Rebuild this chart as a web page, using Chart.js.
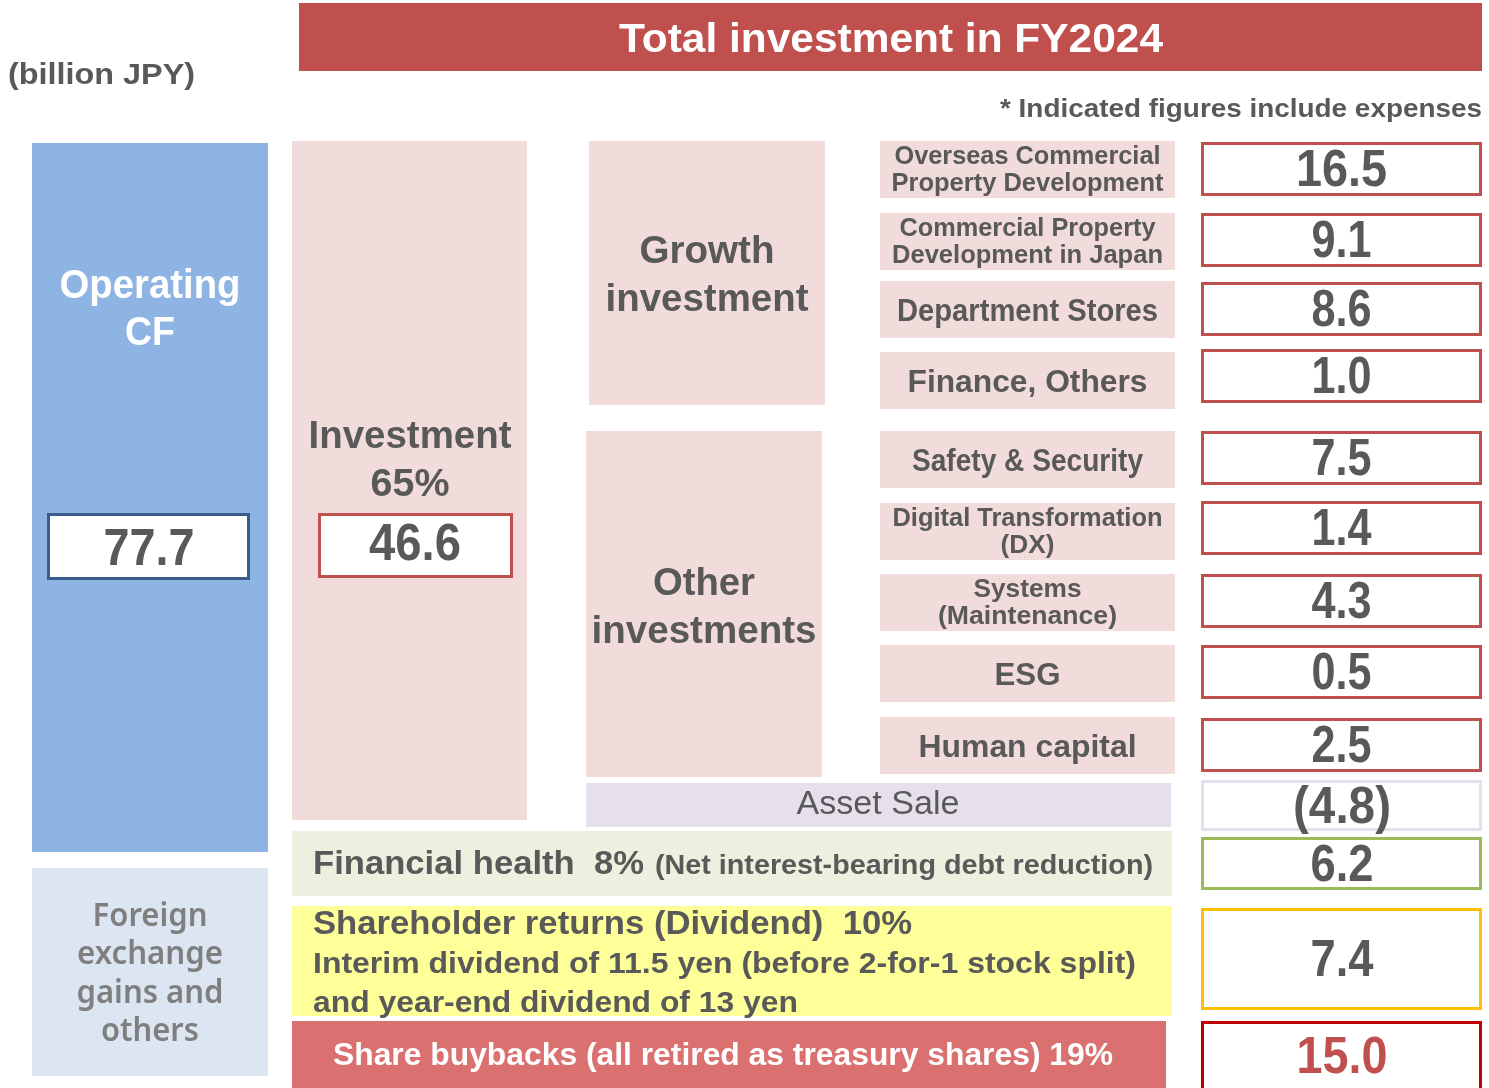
<!DOCTYPE html>
<html>
<head>
<meta charset="utf-8">
<script src="https://cdn.jsdelivr.net/npm/chart.js@4.4.1/dist/chart.umd.min.js"></script>
<style>
  html, body { margin: 0; padding: 0; background: #ffffff; }
  #wrap { width: 1489px; height: 1088px; }
</style>
</head>
<body>
<div id="wrap"><canvas id="c" width="1489" height="1088"></canvas></div>
<script>
// ---------------- DATA ----------------
const unitLabel = '(billion JPY)';
const titleText = 'Total investment in FY2024';
const noteText = '* Indicated figures include expenses';

const growthCategories = ['Overseas Commercial\nProperty Development', 'Commercial Property\nDevelopment in Japan', 'Department Stores', 'Finance, Others'];
const growthValues = [16.5, 9.1, 8.6, 1.0];

const otherCategories = ['Safety & Security', 'Digital Transformation\n(DX)', 'Systems\n(Maintenance)', 'ESG', 'Human capital'];
const otherValues = [7.5, 1.4, 4.3, 0.5, 2.5];

const sourceLabels = ['Operating\nCF', 'Foreign\nexchange\ngains and\nothers'];
const sourceValues = [77.7];

const allocationLabels = ['Investment', 'Financial health', 'Shareholder returns (Dividend)', 'Share buybacks (all retired as treasury shares)'];
const allocationShares = [65, 8, 10, 19];
const allocationValues = [46.6, 6.2, 7.4, 15.0];

const assetSaleLabel = 'Asset Sale';
const assetSaleValue = -4.8;
const groupLabels = ['Growth\ninvestment', 'Other\ninvestments'];
const financialNote = '(Net interest-bearing debt reduction)';
const dividendNotes = ['Interim dividend of 11.5 yen (before 2-for-1 stock split)', 'and year-end dividend of 13 yen'];

// ---------------- LAYOUT / STYLE (diagram grid, in scale units) ----------------
const GRAY = '#595959';
const FONT = '"Liberation Sans", Arial, sans-serif';
const TEXT_DY = 2.5;
const layout = {
  title: { x0: 299, x1: 1482, y0: 3, y1: 71, fill: '#C0504D' },
  labelCol: { x0: 880, x1: 1175, h: 57, tops: [141, 213, 281, 352, 431, 503, 574, 645, 717] },
  valueCol: { x0: 1201, x1: 1482, h: 54, tops: [142, 213, 282, 349, 431, 501, 574, 645, 718] },
  opCF: { x0: 32, x1: 268, y0: 143, y1: 852, fill: '#8EB4E3' },
  opCFVal: { x0: 47, x1: 250, y0: 513, y1: 580 },
  fx: { x0: 32, x1: 268, y0: 868, y1: 1076, fill: '#DCE6F2' },
  inv: { x0: 292, x1: 527, y0: 141, y1: 820, fill: '#F2DCDB' },
  invVal: { x0: 318, x1: 513, y0: 513, y1: 578 },
  growth: { x0: 589, x1: 825, y0: 141, y1: 405, fill: '#F2DCDB' },
  other: { x0: 586, x1: 822, y0: 431, y1: 777, fill: '#F2DCDB' },
  asset: { x0: 586, x1: 1171, y0: 783, y1: 827, fill: '#E6E0EC' },
  assetVal: { x0: 1201, x1: 1482, y0: 780, y1: 831 },
  fin: { x0: 292, x1: 1172, y0: 831, y1: 896, fill: '#EBF1DE' },
  finVal: { x0: 1201, x1: 1482, y0: 837, y1: 890 },
  div: { x0: 292, x1: 1172, y0: 906, y1: 1016, fill: '#FFFF99' },
  divVal: { x0: 1201, x1: 1482, y0: 908, y1: 1010 },
  buy: { x0: 292, x1: 1166, y0: 1021, y1: 1092, fill: '#DA7070' },
  buyVal: { x0: 1201, x1: 1482, y0: 1021, y1: 1092 }
};

function fmt(v) {
  return v < 0 ? '(' + Math.abs(v).toFixed(1) + ')' : v.toFixed(1);
}

// ---------------- DRAWING PLUGIN ----------------
const diagramPlugin = {
  id: 'diagram',
  afterDraw(chart) {
    const ctx = chart.ctx;
    const sx = chart.scales.x, sy = chart.scales.y;
    const X = v => sx.getPixelForValue(v);
    const Y = v => sy.getPixelForValue(v);

    function rect(b, fill) {
      ctx.fillStyle = fill || b.fill;
      ctx.fillRect(X(b.x0), Y(b.y0), X(b.x1) - X(b.x0), Y(b.y1) - Y(b.y0));
    }
    function frame(b, stroke, lw) {
      ctx.fillStyle = '#ffffff';
      ctx.fillRect(X(b.x0), Y(b.y0), X(b.x1) - X(b.x0), Y(b.y1) - Y(b.y0));
      ctx.strokeStyle = stroke;
      ctx.lineWidth = lw || 3;
      const h = ctx.lineWidth / 2;
      ctx.strokeRect(X(b.x0) + h, Y(b.y0) + h, X(b.x1) - X(b.x0) - 2 * h, Y(b.y1) - Y(b.y0) - 2 * h);
    }
    function text(t, x, y, font, color, align, width) {
      ctx.save();
      ctx.font = font;
      ctx.fillStyle = color;
      ctx.textBaseline = 'middle';
      ctx.textAlign = align || 'center';
      const w = ctx.measureText(t).width;
      const s = width ? width / w : 1;
      ctx.translate(X(x), Y(y + TEXT_DY));
      ctx.scale(s, 1);
      ctx.fillText(t, 0, 0);
      ctx.restore();
    }
    const VF = 'bold 51px ' + FONT;

    // header
    rect(layout.title);
    text(titleText, 891, 38, 'bold 41px ' + FONT, '#ffffff', 'center', 544);
    text(unitLabel, 8, 73, 'bold 30px ' + FONT, GRAY, 'left', 187);
    text(noteText, 1482, 107, 'bold 26px ' + FONT, GRAY, 'right', 482);

    // operating CF
    rect(layout.opCF);
    const opLines = sourceLabels[0].split('\n');
    text(opLines[0], 150, 284, 'bold 40px ' + FONT, '#ffffff', 'center', 181);
    text(opLines[1], 150, 331, 'bold 40px ' + FONT, '#ffffff', 'center', 50);
    frame(layout.opCFVal, '#385D8A', 3);
    text(fmt(sourceValues[0]), 149, 548, VF, GRAY, 'center', 91);

    // FX and others
    rect(layout.fx);
    const fxLines = sourceLabels[1].split('\n');
    const fxY = [914, 952, 991, 1029];
    const fxW = [115, 146, 147, 98];
    fxLines.forEach((l, i) => text(l, 150, fxY[i], '600 32px "Noto Sans", sans-serif', '#7F7F7F', 'center', fxW[i]));

    // investment column
    rect(layout.inv);
    text(allocationLabels[0], 410, 435, 'bold 38px ' + FONT, GRAY, 'center', 203);
    text(allocationShares[0] + '%', 410, 483, 'bold 38px ' + FONT, GRAY, 'center', 79);
    frame(layout.invVal, '#C0504D', 3);
    text(fmt(allocationValues[0]), 415, 543, VF, GRAY, 'center', 92);

    // group boxes
    rect(layout.growth);
    const gl = groupLabels[0].split('\n');
    text(gl[0], 707, 250, 'bold 38px ' + FONT, GRAY, 'center', 135);
    text(gl[1], 707, 298, 'bold 38px ' + FONT, GRAY, 'center', 203);
    rect(layout.other);
    const ol = groupLabels[1].split('\n');
    text(ol[0], 704, 582, 'bold 38px ' + FONT, GRAY, 'center', 102);
    text(ol[1], 704, 630, 'bold 38px ' + FONT, GRAY, 'center', 225);

    // right columns
    const cats = growthCategories.concat(otherCategories);
    const vals = growthValues.concat(otherValues);
    const singleW = [0, 0, 261, 240, 231, 0, 0, 66, 218];
    const doubleW = [[266, 272], [256, 271], null, null, null, [270, 54], [108, 179]];
    const LC = layout.labelCol, VC = layout.valueCol;
    const lcx = (LC.x0 + LC.x1) / 2, vcx = (VC.x0 + VC.x1) / 2;
    cats.forEach((c, i) => {
      const top = LC.tops[i];
      rect({ x0: LC.x0, x1: LC.x1, y0: top, y1: top + LC.h }, '#F2DCDB');
      const lines = c.split('\n');
      if (lines.length === 1) {
        text(lines[0], lcx, top + LC.h / 2, 'bold 31px ' + FONT, GRAY, 'center', singleW[i]);
      } else {
        const dw = doubleW[i];
        text(lines[0], lcx, top + 13, 'bold 26px ' + FONT, GRAY, 'center', dw[0]);
        text(lines[1], lcx, top + 40, 'bold 26px ' + FONT, GRAY, 'center', dw[1]);
      }
      const vt = VC.tops[i];
      frame({ x0: VC.x0, x1: VC.x1, y0: vt, y1: vt + VC.h }, '#C0504D', 3);
      const s = fmt(vals[i]);
      text(s, vcx, vt + VC.h / 2, VF, GRAY, 'center', s.length === 4 ? 91 : 60);
    });

    // asset sale
    rect(layout.asset);
    text(assetSaleLabel, 878, 802, '33px ' + FONT, GRAY, 'center', 163);
    frame(layout.assetVal, '#E6E0EC', 3);
    text(fmt(assetSaleValue), 1342, 806, VF, GRAY, 'center', 98);

    // financial health
    rect(layout.fin);
    text(allocationLabels[1] + '  ' + allocationShares[1] + '%', 313, 862, 'bold 33px ' + FONT, GRAY, 'left', 331);
    text(financialNote, 655, 864, 'bold 28px ' + FONT, GRAY, 'left', 498);
    frame(layout.finVal, '#9BBB59', 3);
    text(fmt(allocationValues[1]), 1342, 864, VF, GRAY, 'center', 63);

    // dividend
    rect(layout.div);
    text(allocationLabels[2] + '  ' + allocationShares[2] + '%', 313, 922, 'bold 33px ' + FONT, GRAY, 'left', 599);
    text(dividendNotes[0], 313, 962, 'bold 30px ' + FONT, GRAY, 'left', 823);
    text(dividendNotes[1], 313, 1001, 'bold 30px ' + FONT, GRAY, 'left', 485);
    frame(layout.divVal, '#FFC000', 3);
    text(fmt(allocationValues[2]), 1342, 959, VF, GRAY, 'center', 63);

    // buybacks
    rect(layout.buy);
    text(allocationLabels[3] + ' ' + allocationShares[3] + '%', 723, 1054, 'bold 31px ' + FONT, '#ffffff', 'center', 780);
    frame(layout.buyVal, '#C00000', 3);
    text(fmt(allocationValues[3]), 1342, 1056, VF, '#C0504D', 'center', 91);
  }
};

new Chart(document.getElementById('c'), {
  type: 'scatter',
  data: { datasets: [{ data: [], pointRadius: 0 }] },
  options: {
    responsive: false,
    animation: false,
    layout: { padding: 0 },
    plugins: { legend: { display: false }, tooltip: { enabled: false }, title: { display: false } },
    scales: {
      x: { type: 'linear', min: 0, max: 1489, display: false },
      y: { type: 'linear', min: 0, max: 1088, reverse: true, display: false }
    }
  },
  plugins: [diagramPlugin]
});
</script>
</body>
</html>
